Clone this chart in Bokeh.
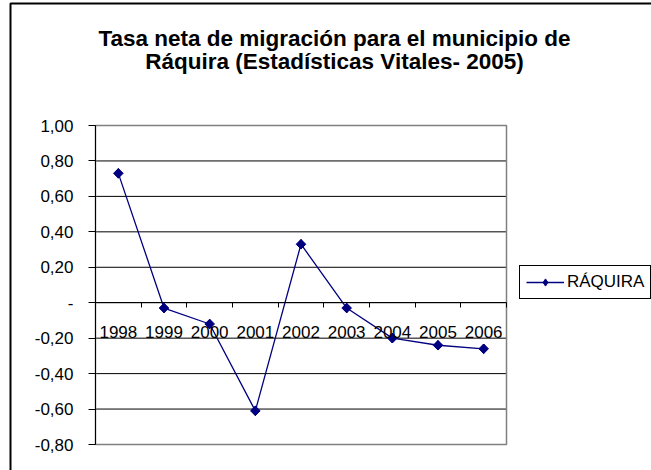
import numpy as np
from bokeh.plotting import figure
from bokeh.models import (LinearAxis, FixedTicker, Range1d, Legend, LegendItem,
                          BoxAnnotation, Label, ColumnDataSource)
from bokeh.embed import file_html
from bokeh.resources import INLINE

# ---- data ----
years = ["1998", "1999", "2000", "2001", "2002", "2003", "2004", "2005", "2006"]
values = [0.73, -0.03, -0.12, -0.61, 0.33, -0.03, -0.20, -0.24, -0.26]
series_name = "RÁQUIRA"
y_ticks = [-0.8, -0.6, -0.4, -0.2, 0.0, 0.2, 0.4, 0.6, 0.8, 1.0]
y_labels = ["-0,80", "-0,60", "-0,40", "-0,20", "-", "0,20", "0,40", "0,60", "0,80", "1,00"]
title_lines = ["Tasa neta de migración para el municipio de",
               "Ráquira (Estadísticas Vitales- 2005)"]

FONT = "Liberation Sans"
n = len(years)
xpos = list(range(1, n + 1))
x_lo, x_hi = xpos[0] - 0.5, xpos[-1] + 0.5
y_lo, y_hi = y_ticks[0], y_ticks[-1]

# ---- layout (pixels) ----
W, H = 651, 470
FL, FT = 8, 1                       # frame origin on canvas
PL, PR, PT, PB = 95, 506, 125, 444  # plot-area box
XU = (PR - PL) / (x_hi - x_lo)
YU = (PB - PT) / (y_hi - y_lo)


def px_x(px):
    return x_lo + (px - PL) / XU


def px_y(py):
    return y_lo + (PB - py) / YU


src = ColumnDataSource(dict(x=xpos, y=values, year=years))

p = figure(width=W, height=H, output_backend="svg", toolbar_location=None,
           x_range=Range1d(px_x(FL), px_x(W)), y_range=Range1d(px_y(H), px_y(FT)),
           x_axis_location=None, y_axis_location="left",
           min_border_left=FL, min_border_right=0, min_border_top=FT,
           min_border_bottom=0)
p.title.visible = False
p.background_fill_color = "white"
p.border_fill_color = "white"
p.outline_line_color = None
p.xgrid.visible = False
p.ygrid.visible = False

# horizontal gridlines inside the plot area
p.segment(x0=[x_lo] * len(y_ticks), x1=[x_hi] * len(y_ticks), y0=y_ticks, y1=y_ticks,
          line_color="black", line_width=1)
# plot-area border
p.quad(left=[x_lo], right=[x_hi], bottom=[y_lo], top=[y_hi], fill_color=None,
       line_color="#808080", line_width=1.5)

# y axis
yax = p.yaxis[0]
yax.fixed_location = x_lo
yax.bounds = (y_lo, y_hi)
yax.ticker = FixedTicker(ticks=y_ticks)
yax.major_label_overrides = {t: l for t, l in zip(y_ticks, y_labels)}
yax.axis_line_color = "black"
yax.major_tick_line_color = "black"
yax.major_tick_out = 7
yax.major_tick_in = 0
yax.minor_tick_line_color = None
yax.major_label_text_font = FONT
yax.major_label_text_font_size = "17px"
yax.major_label_text_color = "black"
yax.major_label_standoff = 15

# x axis: tick marks at category boundaries, crossing at y = 0
bounds = [x + 0.5 for x in [xpos[0] - 1] + xpos]
xtick_ax = LinearAxis(ticker=FixedTicker(ticks=bounds), fixed_location=0,
                      bounds=(x_lo, x_hi))
xtick_ax.axis_line_color = "black"
xtick_ax.major_tick_line_color = "black"
xtick_ax.major_tick_out = 5
xtick_ax.major_tick_in = 0
xtick_ax.minor_tick_line_color = None
xtick_ax.major_label_text_color = None
xtick_ax.major_label_text_font_size = "1px"
p.add_layout(xtick_ax, "below")

# x labels at category centres
xlab_ax = LinearAxis(ticker=FixedTicker(ticks=xpos), fixed_location=0,
                     bounds=(x_lo, x_hi))
xlab_ax.major_label_overrides = {x: y for x, y in zip(xpos, years)}
xlab_ax.axis_line_color = None
xlab_ax.major_tick_line_color = None
xlab_ax.minor_tick_line_color = None
xlab_ax.major_label_text_font = FONT
xlab_ax.major_label_text_font_size = "17px"
xlab_ax.major_label_text_color = "black"
xlab_ax.major_label_standoff = 17
p.add_layout(xlab_ax, "below")

# series
ln = p.line("x", "y", source=src, line_color="#000080", line_width=1.3)
leg_mk = p.scatter("x", "y", source=src, marker="diamond", size=9.5,
                   fill_color="#000080", line_color="#000080")
mk = p.scatter("x", "y", source=src, marker="square", angle=np.pi / 4, size=6.8,
               fill_color="#000080", line_color="#000080")

legend = Legend(items=[LegendItem(label=series_name, renderers=[ln, leg_mk])],
                location=(519 - FL, H - 299), orientation="vertical")
legend.label_text_font = FONT
legend.label_text_font_size = "17px"
legend.label_text_color = "black"
legend.border_line_color = "black"
legend.border_line_width = 1
legend.border_line_alpha = 1
legend.background_fill_color = "white"
legend.background_fill_alpha = 1
legend.padding = 6
legend.spacing = 0
legend.glyph_width = 38
legend.glyph_height = 18
legend.label_height = 18
legend.label_standoff = 3
legend.margin = 0
p.add_layout(legend, "center")

# outer chart-area border (left and top edges visible)
border = BoxAnnotation(left=px_x(10), right=px_x(3000), top=px_y(3), bottom=px_y(3000),
                       fill_color=None, fill_alpha=0, line_color="black",
                       line_alpha=1, line_width=2)
p.add_layout(border)

# title (two centred lines)
for txt, yy in zip(title_lines, [37.5, 61]):
    p.add_layout(Label(x=px_x(334), y=px_y(yy), text=txt,
                       text_font=FONT, text_font_size="22.5px", text_font_style="bold",
                       text_color="black", text_align="center",
                       text_baseline="alphabetic"))

open("out.html", "w").write(file_html(p, INLINE))
